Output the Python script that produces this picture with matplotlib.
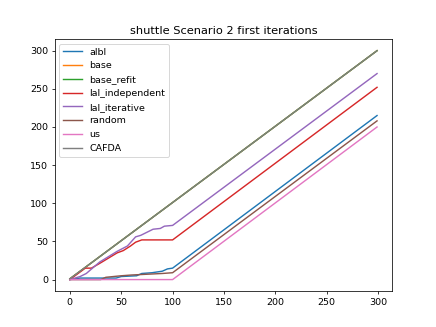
import matplotlib
matplotlib.use("Agg")
import matplotlib.pyplot as plt

# breakpoints of each cumulative curve (iteration, count)
albl_x = [0, 10, 45, 50, 65, 70, 80, 90, 95, 100, 299]
albl_y = [0, 2, 2, 4, 5, 8, 9, 11, 14, 15, 215]

base_x = [0, 299]
base_y = [1, 300]

base_refit_x = [0, 299]
base_refit_y = [1, 300]

lal_ind_x = [0, 15, 21, 30, 46, 52, 59, 64, 70, 100, 299]
lal_ind_y = [0, 15, 15, 22, 35, 38, 44, 49, 52, 52, 252]

lal_iter_x = [0, 10, 16, 29, 46, 56, 64, 69, 75, 81, 88, 92, 100, 299]
lal_iter_y = [0, 4, 8, 23, 37, 44, 56, 58, 62, 66, 67, 70, 71, 270]

random_x = [0, 30, 35, 50, 60, 75, 90, 100, 299]
random_y = [0, 0, 3, 5, 6, 7, 8, 9, 208]

us_x = [0, 100, 299]
us_y = [0, 0, 200]

cafda_x = [0, 299]
cafda_y = [1, 300]

plt.figure(figsize=(6.4, 4.8), dpi=68.125)
plt.plot(albl_x, albl_y, label="albl")
plt.plot(base_x, base_y, label="base")
plt.plot(base_refit_x, base_refit_y, label="base_refit")
plt.plot(lal_ind_x, lal_ind_y, label="lal_independent")
plt.plot(lal_iter_x, lal_iter_y, label="lal_iterative")
plt.plot(random_x, random_y, label="random")
plt.plot(us_x, us_y, label="us")
plt.plot(cafda_x, cafda_y, label="CAFDA")

plt.title("shuttle Scenario 2 first iterations")
plt.legend()
plt.savefig("out.png", dpi=68.125)
